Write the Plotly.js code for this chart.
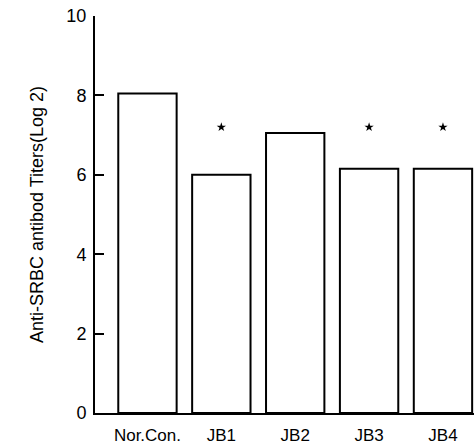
<!DOCTYPE html>
<html>
<head>
<meta charset="utf-8">
<script src="https://cdn.plot.ly/plotly-3.0.1.min.js"></script>
<style>html,body{margin:0;padding:0;background:#fff;}#chart{width:474px;height:448px;}</style>
</head>
<body>
<div id="chart"></div>
<script>
const groups = ["Nor.Con.", "JB1", "JB2", "JB3", "JB4"];
const titers = [8.05, 6.0, 7.05, 6.15, 6.15];
const sigGroups = ["JB1", "JB3", "JB4"];
const sigMarkY = [7.2, 7.2, 7.2];
const yTicks = [0, 2, 4, 6, 8, 10];

const font = "Liberation Sans, Arial, Helvetica, sans-serif";

const bars = {
  type: "bar",
  x: groups,
  y: titers,
  marker: {color: "#ffffff", line: {color: "#000000", width: 2}},
  width: 0.79,
  hoverinfo: "skip"
};
const stars = {
  type: "scatter",
  mode: "markers",
  x: sigGroups,
  y: sigMarkY,
  marker: {symbol: "star", size: 7, color: "#000000"},
  hoverinfo: "skip"
};

const layout = {
  width: 474, height: 448,
  margin: {l: 95, r: 0, t: 16, b: 35},
  paper_bgcolor: "#ffffff",
  plot_bgcolor: "#ffffff",
  showlegend: false,
  font: {family: font, size: 16, color: "#000000"},
  xaxis: {
    type: "category",
    categoryorder: "array",
    categoryarray: groups,
    range: [-0.71, 4.42],
    showgrid: false,
    zeroline: false,
    showline: true,
    linecolor: "#000000",
    linewidth: 2,
    ticks: "",
    ticklabelstandoff: 6,
    tickfont: {family: font, size: 17, color: "#000000"}
  },
  yaxis: {
    range: [0, 10],
    tickvals: yTicks,
    ticktext: yTicks.map(String),
    showgrid: false,
    zeroline: false,
    showline: true,
    linecolor: "#000000",
    linewidth: 2,
    ticks: "inside",
    ticklen: 9,
    tickwidth: 2,
    tickcolor: "#000000",
    ticklabelstandoff: 3,
    tickfont: {family: font, size: 18, color: "#000000"},
    title: {text: "Anti-SRBC antibod Titers(Log 2)", font: {family: font, size: 18, color: "#000000"}, standoff: 18}
  }
};

Plotly.newPlot("chart", [bars, stars], layout, {staticPlot: true, displayModeBar: false});
</script>
</body>
</html>
